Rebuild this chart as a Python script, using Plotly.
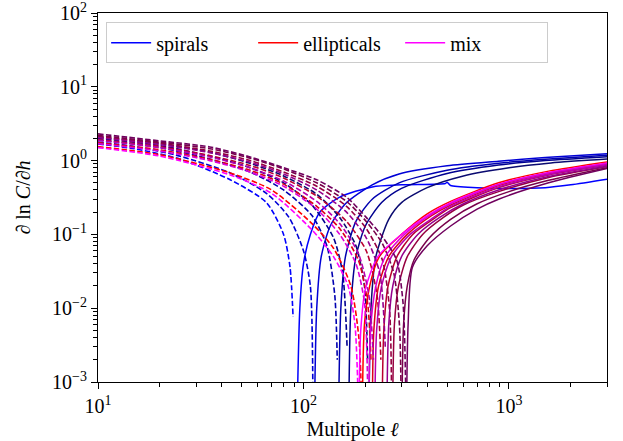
import plotly.graph_objects as go

# ---------------- data ----------------
group_names = ["spirals", "ellipticals", "mix"]

spirals_colors = ["#0000ff", "#0000d6", "#0000b0", "#000090", "#0a0a70"]
ellipticals_colors = ["#ff0000", "#dc0018", "#b80030", "#960040", "#78004a"]
mix_colors = ["#ff00ff", "#dc00d8", "#b800b0", "#95008c", "#70005e"]

# negative branch (|value| drawn dashed)
spirals_neg_ell = [
    [10, 15, 25, 44, 66, 80, 86, 89],
    [10, 15, 25, 44, 66, 85, 100, 108, 111],
    [10, 20, 35, 55, 80, 110, 130, 142, 146],
    [10, 20, 35, 55, 80, 110, 140, 155, 163],
    [10, 20, 35, 55, 80, 116, 150, 180, 198, 205],
]
spirals_neg_val = [
    [1.68, 1.45, 1.05, 0.55, 0.27, 0.10, 0.036, 0.0076],
    [1.78, 1.55, 1.15, 0.68, 0.36, 0.17, 0.06, 0.02, 0.001],
    [1.90, 1.50, 1.05, 0.70, 0.40, 0.18, 0.07, 0.015, 0.002],
    [2.00, 1.60, 1.15, 0.80, 0.50, 0.25, 0.09, 0.03, 0.003],
    [2.10, 1.70, 1.30, 0.92, 0.62, 0.35, 0.17, 0.07, 0.02, 0.002],
]
spirals_pos_ell = [
    [93, 96, 100, 108, 120, 150, 216, 300, 490, 500, 520, 700, 1000, 1500, 2000, 3000],
    [113, 116, 122, 135, 160, 216, 292, 500, 890, 1500, 3000],
    [148, 152, 160, 180, 216, 292, 500, 890, 1500, 3000],
    [166, 170, 180, 200, 240, 300, 500, 890, 1500, 3000],
    [208, 213, 225, 260, 300, 400, 600, 1000, 1600, 3000],
]
spirals_pos_val = [
    [0.0003, 0.01, 0.04, 0.10, 0.20, 0.32, 0.44, 0.47, 0.49, 0.51, 0.46, 0.43, 0.42, 0.43, 0.47, 0.56],
    [0.0003, 0.01, 0.05, 0.13, 0.26, 0.47, 0.66, 0.85, 0.98, 1.10, 1.24],
    [0.0003, 0.01, 0.05, 0.15, 0.30, 0.50, 0.74, 0.92, 1.04, 1.18],
    [0.0003, 0.01, 0.05, 0.13, 0.27, 0.42, 0.67, 0.87, 1.00, 1.13],
    [0.0003, 0.01, 0.05, 0.16, 0.27, 0.43, 0.62, 0.80, 0.93, 1.05],
]

ellipticals_neg_ell = [
    [10, 20, 44, 70, 110, 140, 170, 186, 191],
    [10, 20, 35, 55, 80, 116, 150, 185, 205, 213],
    [10, 20, 35, 55, 80, 116, 162, 202, 228, 238],
    [10, 20, 35, 55, 80, 116, 162, 202, 242, 262, 268],
    [10, 20, 35, 55, 80, 116, 162, 202, 242, 275, 293, 298],
]
ellipticals_neg_val = [
    [1.55, 1.20, 0.68, 0.40, 0.14, 0.065, 0.02, 0.004, 0.0008],
    [1.75, 1.40, 1.04, 0.74, 0.48, 0.24, 0.12, 0.045, 0.012, 0.002],
    [1.92, 1.55, 1.17, 0.86, 0.58, 0.33, 0.15, 0.06, 0.015, 0.002],
    [2.10, 1.72, 1.35, 1.00, 0.70, 0.45, 0.24, 0.12, 0.045, 0.01, 0.001],
    [2.20, 1.78, 1.45, 1.08, 0.77, 0.50, 0.28, 0.15, 0.075, 0.03, 0.006, 0.001],
]
ellipticals_pos_ell = [
    [193, 198, 210, 234, 300, 400, 520, 890, 1560, 3000],
    [216, 220, 232, 260, 320, 420, 520, 890, 1560, 3000],
    [241, 246, 258, 285, 340, 440, 520, 890, 1560, 3000],
    [271, 277, 290, 320, 380, 480, 600, 890, 1560, 3000],
    [301, 307, 320, 345, 410, 520, 700, 1000, 1560, 3000],
]
ellipticals_pos_val = [
    [0.0003, 0.006, 0.02, 0.05, 0.10, 0.19, 0.28, 0.50, 0.72, 0.96],
    [0.0003, 0.005, 0.02, 0.05, 0.10, 0.18, 0.25, 0.46, 0.67, 0.90],
    [0.0003, 0.005, 0.02, 0.05, 0.10, 0.17, 0.23, 0.43, 0.64, 0.87],
    [0.0003, 0.006, 0.02, 0.05, 0.10, 0.17, 0.25, 0.38, 0.59, 0.83],
    [0.0003, 0.006, 0.02, 0.045, 0.09, 0.16, 0.26, 0.38, 0.54, 0.80],
]

mix_neg_ell = [
    [10, 20, 44, 70, 110, 140, 165, 178, 184],
    [10, 20, 35, 55, 80, 116, 150, 180, 198, 205],
    [10, 20, 35, 55, 80, 116, 150, 185, 208, 219],
    [10, 20, 35, 55, 80, 116, 162, 202, 235, 250],
    [10, 20, 35, 55, 80, 116, 162, 202, 242, 284, 305, 314],
]
mix_neg_val = [
    [1.50, 1.15, 0.64, 0.36, 0.115, 0.05, 0.02, 0.006, 0.0008],
    [1.70, 1.35, 1.00, 0.70, 0.45, 0.22, 0.10, 0.04, 0.012, 0.001],
    [1.88, 1.50, 1.12, 0.80, 0.53, 0.28, 0.14, 0.055, 0.015, 0.002],
    [2.05, 1.65, 1.28, 0.95, 0.66, 0.40, 0.20, 0.09, 0.03, 0.003],
    [2.30, 1.85, 1.53, 1.12, 0.80, 0.55, 0.32, 0.17, 0.093, 0.045, 0.012, 0.001],
]
mix_pos_ell = [
    [186, 190, 200, 230, 300, 400, 520, 890, 1560, 3000],
    [208, 212, 225, 250, 310, 410, 520, 890, 1560, 3000],
    [222, 227, 240, 268, 330, 430, 520, 890, 1560, 3000],
    [254, 260, 272, 300, 360, 460, 600, 890, 1560, 3000],
    [317, 323, 339, 400, 520, 700, 890, 1560, 3000],
]
mix_pos_val = [
    [0.0003, 0.005, 0.018, 0.05, 0.10, 0.18, 0.27, 0.48, 0.69, 0.93],
    [0.0003, 0.005, 0.02, 0.05, 0.10, 0.18, 0.26, 0.47, 0.68, 0.91],
    [0.0003, 0.005, 0.02, 0.05, 0.10, 0.17, 0.24, 0.44, 0.65, 0.88],
    [0.0003, 0.006, 0.02, 0.05, 0.10, 0.17, 0.26, 0.40, 0.61, 0.84],
    [0.0003, 0.006, 0.036, 0.07, 0.13, 0.22, 0.30, 0.50, 0.78],
]

x_tick_vals = [10, 100, 1000]
x_tick_text = ["10<sup>1</sup>", "10<sup>2</sup>", "10<sup>3</sup>"]
y_tick_vals = [1e-3, 1e-2, 1e-1, 1, 10, 100]
y_tick_text = ["10<sup>−3</sup>", "10<sup>−2</sup>", "10<sup>−1</sup>",
               "10<sup>0</sup>", "10<sup>1</sup>", "10<sup>2</sup>"]

# ---------------- figure ----------------
FONT = "Liberation Serif"
fig = go.Figure()

groups = [
    ("spirals", spirals_colors, spirals_neg_ell, spirals_neg_val, spirals_pos_ell, spirals_pos_val),
    ("ellipticals", ellipticals_colors, ellipticals_neg_ell, ellipticals_neg_val, ellipticals_pos_ell, ellipticals_pos_val),
    ("mix", mix_colors, mix_neg_ell, mix_neg_val, mix_pos_ell, mix_pos_val),
]

for name, colors, nel, nva, pel, pva in groups:
    for i, c in enumerate(colors):
        fig.add_trace(go.Scatter(
            x=nel[i], y=nva[i], mode="lines",
            line=dict(color=c, width=1.6, dash="5.5px,2.4px", shape="spline", smoothing=0.7),
            showlegend=False, hoverinfo="skip", legendgroup=name))
        fig.add_trace(go.Scatter(
            x=pel[i], y=pva[i], mode="lines",
            line=dict(color=c, width=1.5, shape="spline", smoothing=0.7),
            name=name, showlegend=(i == 0), legendgroup=name, hoverinfo="skip"))

minor_x = [v * d for d in (10, 100) for v in range(2, 10)] + [2000, 3000]
minor_y = [v * d for d in (1e-3, 1e-2, 1e-1, 1, 10) for v in range(2, 10)]

axis_common = dict(
    type="log", showgrid=False, zeroline=False, automargin=False,
    showline=True, linecolor="black", linewidth=1.2, mirror=True,
    ticks="outside", ticklen=6, tickwidth=1.1, tickcolor="black",
    tickfont=dict(family=FONT, size=20, color="black"),
    tickmode="array", ticklabeloverflow="allow",
)

fig.update_xaxes(
    **axis_common, range=[1, 3.4771],
    tickvals=x_tick_vals, ticktext=x_tick_text,
    minor=dict(tickmode="array", tickvals=minor_x, ticks="outside",
               ticklen=3.5, tickwidth=0.9, tickcolor="black", showgrid=False),
    title=dict(text="Multipole <i>ℓ</i>", font=dict(family=FONT, size=20, color="black"),
               standoff=12),
)
fig.update_yaxes(
    **axis_common, range=[-3, 2],
    tickvals=y_tick_vals, ticktext=y_tick_text,
    minor=dict(tickmode="array", tickvals=minor_y, ticks="outside",
               ticklen=3.5, tickwidth=0.9, tickcolor="black", showgrid=False),
    title=dict(text="∂ ln <i>C</i>/∂<i>h</i>", font=dict(family=FONT, size=20, color="black"),
               standoff=15),
)

fig.update_layout(
    width=623, height=441,
    margin=dict(l=98, r=16, t=13, b=59, autoexpand=False),
    paper_bgcolor="white", plot_bgcolor="white",
    font=dict(family=FONT, size=20, color="black"),
    legend=dict(
        orientation="h", x=0.016, y=0.975, xanchor="left", yanchor="top",
        bgcolor="rgba(255,255,255,0.8)", bordercolor="#cccccc", borderwidth=1,
        font=dict(family=FONT, size=20, color="black"),
        entrywidth=92, entrywidthmode="pixels", itemwidth=40,
    ),
)

fig.write_html("out.html")
